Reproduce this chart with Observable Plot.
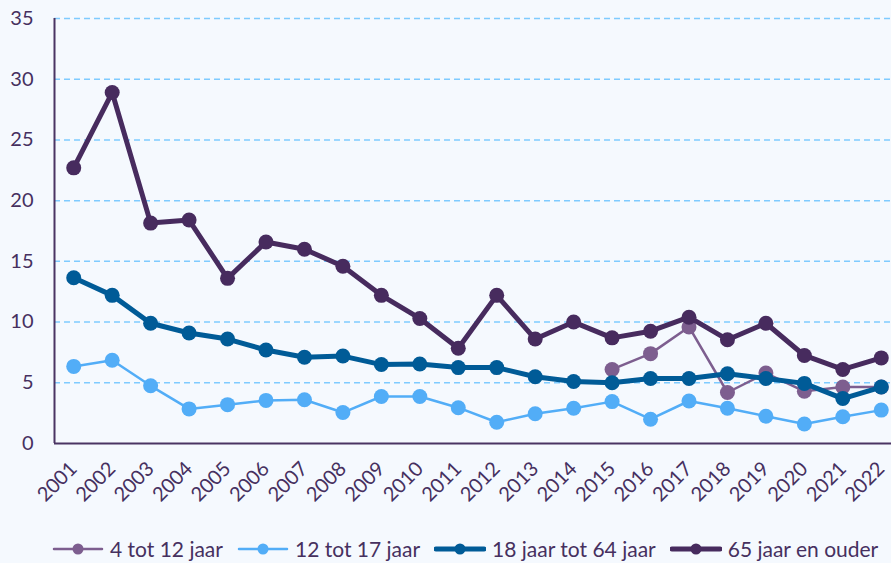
<!DOCTYPE html>
<html>
<head>
<meta charset="utf-8">
<script src="https://cdn.jsdelivr.net/npm/d3@7"></script>
<script src="https://cdn.jsdelivr.net/npm/@observablehq/plot@0.6"></script>
<style>
  html, body { margin: 0; padding: 0; background: #f5f9fe; }
  body { width: 891px; height: 563px; overflow: hidden; font-family: Lato, "DejaVu Sans", sans-serif; position: relative; }
  #legend { position: absolute; left: 0; top: 537px; width: 891px; box-sizing: border-box; padding-left: 52px; display: flex; justify-content: flex-start; align-items: center; gap: 14px; font-size: 21px; line-height: 24px; color: #46305f; white-space: nowrap; }
  #legend .item { display: flex; align-items: center; gap: 6px; }
  #legend svg { display: block; }
</style>
</head>
<body>
<div id="chart"></div>
<div id="legend"></div>
<script>
const years = d3.range(2001, 2023);
const years4to12 = [2015, 2016, 2017, 2018, 2019, 2020, 2021, 2022];
const yTicks = [0, 5, 10, 15, 20, 25, 30, 35];

const s4to12 = [6.1, 7.4, 9.6, 4.2, 5.8, 4.3, 4.65, 4.65];
const s12to17 = [6.35, 6.85, 4.75, 2.85, 3.2, 3.55, 3.6, 2.55, 3.87, 3.87, 2.95, 1.75, 2.45, 2.9, 3.45, 2.0, 3.5, 2.9, 2.25, 1.6, 2.2, 2.75];
const s18to64 = [13.65, 12.2, 9.9, 9.1, 8.6, 7.7, 7.1, 7.2, 6.5, 6.55, 6.25, 6.25, 5.5, 5.1, 5.0, 5.35, 5.35, 5.75, 5.35, 4.95, 3.7, 4.65];
const s65plus = [22.7, 28.9, 18.15, 18.4, 13.6, 16.6, 16.0, 14.6, 12.2, 10.3, 7.85, 12.2, 8.6, 10.0, 8.7, 9.25, 10.4, 8.55, 9.9, 7.25, 6.1, 7.05];

const seriesNames = ["4 tot 12 jaar", "12 tot 17 jaar", "18 jaar tot 64 jaar", "65 jaar en ouder"];
const seriesColors = ["#7d5e8f", "#52adf7", "#005b97", "#472b5e"];
const seriesWidths = [2.5, 2.5, 5, 5];

const series = [
  years4to12.map((y, i) => ({year: y, value: s4to12[i]})),
  years.map((y, i) => ({year: y, value: s12to17[i]})),
  years.map((y, i) => ({year: y, value: s18to64[i]})),
  years.map((y, i) => ({year: y, value: s65plus[i]}))
];

const ink = "#46305f";
const marks = [
  Plot.ruleY(yTicks.filter(d => d > 0), {stroke: "#7fcbff", strokeWidth: 1.5, strokeDasharray: "6,4"}),
  Plot.ruleY([0], {stroke: "#4a3463", strokeWidth: 2}),
  Plot.ruleX([2000.5], {y1: 0, y2: 35, stroke: "#4a3463", strokeWidth: 2}),
  Plot.axisY({ticks: yTicks, tickSize: 0, tickPadding: 21, fontSize: 20, color: ink, label: null}),
  Plot.axisX({ticks: years, tickFormat: d => String(d), tickSize: 0, tickPadding: 22, tickRotate: -45, fontSize: 20, color: ink, label: null})
];
series.forEach((data, k) => {
  marks.push(Plot.line(data, {x: "year", y: "value", stroke: seriesColors[k], strokeWidth: seriesWidths[k], strokeLinejoin: "round"}));
  marks.push(Plot.dot(data, {x: "year", y: "value", fill: seriesColors[k], r: 7.5}));
});

const H = 525;
const chart = Plot.plot({
  width: 891,
  height: H,
  marginTop: 18,
  marginLeft: 54,
  marginRight: 0,
  marginBottom: H - 443,
  style: {background: "#f5f9fe", fontFamily: "Lato, sans-serif", color: ink, overflow: "visible"},
  x: {type: "linear", domain: [2000.5, 2022.5], range: [54, 900]},
  y: {domain: [0, 35], range: [443, 18]},
  marks
});
document.getElementById("chart").appendChild(chart);

const legend = document.getElementById("legend");
seriesNames.forEach((name, k) => {
  const item = document.createElement("div");
  item.className = "item";
  item.innerHTML = `<svg width="52" height="16"><line x1="2" x2="50" y1="8" y2="8" stroke="${seriesColors[k]}" stroke-width="${seriesWidths[k]}" stroke-linecap="round"/><circle cx="26" cy="8" r="5.5" fill="${seriesColors[k]}"/></svg><span>${name}</span>`;
  legend.appendChild(item);
});
</script>
</body>
</html>
